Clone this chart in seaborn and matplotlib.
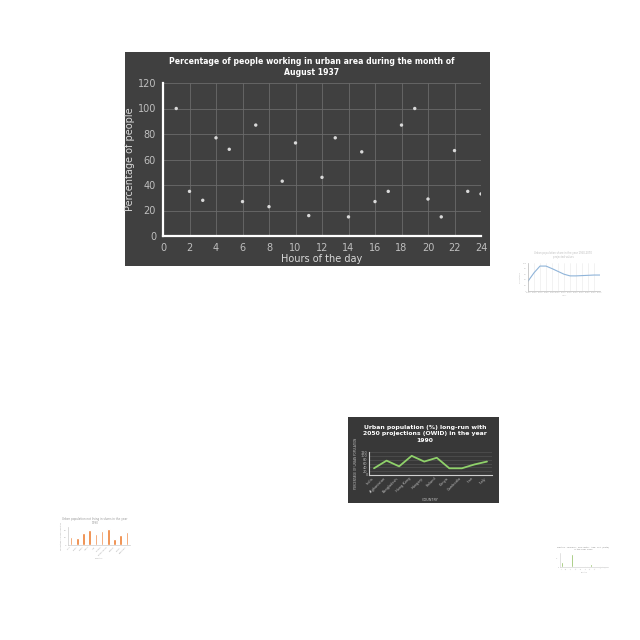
import matplotlib
matplotlib.use("Agg")
import matplotlib.pyplot as plt
import matplotlib.patches as mpatches
import seaborn as sns
import pandas as pd

# main scatter: hours vs percentage
hours = list(range(1, 25))
pct_people = [100, 35, 28, 77, 68, 27, 87, 23, 43, 73, 16, 46,
              77, 15, 66, 27, 35, 87, 100, 29, 15, 67, 35, 33]

# dark green line chart (1990)
countries = ["India", "Afghanistan", "Bangladesh", "Hong Kong", "Hungary",
             "Finland", "Kenya", "Cambodia", "Iran", "Italy"]
urban_1990 = [35, 75, 45, 100, 70, 90, 35, 35, 55, 70]

# light line chart (top right)
light_years = ["1950", "1960", "1970", "1980", "1990", "2000", "2010",
               "2020", "2030", "2040", "2050", "2060", "2070"]
light_vals = [35, 65, 89, 89, 80, 70, 60, 54, 54, 55, 56, 57, 57]

# orange bar chart (bottom left)
orange_cats = ["Peru", "Chad", "Cuba", "Japan", "Iraq", "Greece",
               "Netherlands", "Ghana", "Egypt", "Denmark"]
orange_vals = [23, 20, 33, 43, 31, 40, 45, 16, 28, 36]

# green bar chart (bottom right)
green_cats = ["A", "B", "C", "D", "E", "F", "G", "H", "I", "J"]
green_vals = [12, 1, 30, 0, 0, 3, 8, 0, 2, 1]

W = H = 640


def box(x0, y0, x1, y1):
    # pixel box (top-left origin) -> figure fraction rect
    return [x0 / W, 1 - y1 / H, (x1 - x0) / W, (y1 - y0) / H]


def panel(x0, y0, x1, y1, color):
    b = box(x0, y0, x1, y1)
    fig.patches.append(mpatches.Rectangle((b[0], b[1]), b[2], b[3],
                                          transform=fig.transFigure,
                                          facecolor=color, edgecolor="none",
                                          zorder=-5))


sns.set_style("white")
fig = plt.figure(figsize=(6.4, 6.4), dpi=100)
fig.patch.set_facecolor("white")

# ---------------- main scatter ----------------
panel(125, 52, 490, 266, "#404040")
ax = fig.add_axes(box(163, 83, 481, 236))
ax.set_facecolor("#404040")
df = pd.DataFrame({"hour": hours, "pct": pct_people})
sns.scatterplot(data=df, x="hour", y="pct", ax=ax, color="#d9d9d9", s=6,
                edgecolor="none", zorder=3)
ax.set_xlim(0, 24)
ax.set_ylim(0, 120)
ax.set_xticks(range(0, 25, 2))
ax.set_yticks(range(0, 121, 20))
ax.grid(True, color="#6b6b6b", linewidth=0.6)
for s in ["top", "right"]:
    ax.spines[s].set_visible(False)
for s in ["left", "bottom"]:
    ax.spines[s].set_color("white")
    ax.spines[s].set_linewidth(1.6)
ax.tick_params(colors="#bfbfbf", labelsize=7, length=0, pad=5)
ax.set_xlabel("Hours of the day", color="#d9d9d9", fontsize=7, labelpad=1)
ax.set_ylabel("Percentage of people", color="#d9d9d9", fontsize=7, labelpad=2)
fig.text(312 / W, 1 - 67 / H,
         "Percentage of people working in urban area during the month of\nAugust 1937",
         ha="center", va="center", color="white", fontsize=5.6, fontweight="bold",
         linespacing=1.4)

# ---------------- dark green line chart ----------------
panel(348, 417, 499, 503, "#383838")
ax2 = fig.add_axes(box(369, 452, 492, 475))
ax2.set_facecolor("#383838")
df2 = pd.DataFrame({"country": countries, "urban": urban_1990})
sns.lineplot(data=df2, x="country", y="urban", ax=ax2, color="#8fd16a",
             linewidth=1.3, sort=False)
ax2.set_ylim(0, 120)
ax2.set_xlim(-0.4, 9.4)
ax2.set_yticks(range(0, 121, 20))
ax2.grid(axis="y", color="#5a5a5a", linewidth=0.4)
for s in ["top", "right"]:
    ax2.spines[s].set_visible(False)
for s in ["left", "bottom"]:
    ax2.spines[s].set_color("#d0d0d0")
    ax2.spines[s].set_linewidth(0.8)
ax2.tick_params(colors="#bfbfbf", labelsize=2.5, length=0, pad=1)
plt.setp(ax2.get_xticklabels(), rotation=45, ha="right")
ax2.set_xlabel("COUNTRY", color="#bfbfbf", fontsize=2.5, labelpad=3)
ax2.set_ylabel("PERCENTAGE OF URBAN POPULATION", color="#bfbfbf", fontsize=2,
               labelpad=2)
fig.text(425 / W, 1 - 434 / H,
         "Urban population (%) long-run with\n2050 projections (OWID) in the year\n1990",
         ha="center", va="center", color="white", fontsize=4.4, fontweight="bold",
         linespacing=1.25)

# ---------------- light line chart (top right) ----------------
ax3 = fig.add_axes(box(528, 263, 600, 291))
df3 = pd.DataFrame({"year": light_years, "val": light_vals})
sns.lineplot(data=df3, x="year", y="val", ax=ax3, color="#8fb4d9", linewidth=0.8,
             sort=False)
ax3.set_ylim(0, 100)
ax3.set_xlim(0, len(light_years) - 1)
ax3.grid(axis="x", color="#e8e8e8", linewidth=0.4)
for s in ["top", "right"]:
    ax3.spines[s].set_visible(False)
for s in ["left", "bottom"]:
    ax3.spines[s].set_color("#bbbbbb")
    ax3.spines[s].set_linewidth(0.5)
ax3.tick_params(colors="#bbbbbb", labelsize=1.5, length=0, pad=1)
ax3.set_xlabel("Year", color="#bbbbbb", fontsize=1.5, labelpad=1)
ax3.set_ylabel("Percentage", color="#bbbbbb", fontsize=1.5, labelpad=1)
fig.text(563 / W, 1 - 255 / H,
         "Urban population share in the year 1950-2070\nprojected values",
         ha="center", va="center", color="#bbbbbb", fontsize=1.8)

# ---------------- orange bar chart (bottom left) ----------------
ax4 = fig.add_axes(box(68, 527, 130, 545))
df4 = pd.DataFrame({"country": orange_cats, "val": orange_vals})
sns.barplot(data=df4, x="country", y="val", ax=ax4, color="#ed7d31", width=0.4,
            saturation=1)
ax4.set_ylim(0, 50)
for s in ["top", "right"]:
    ax4.spines[s].set_visible(False)
for s in ["left", "bottom"]:
    ax4.spines[s].set_color("#cccccc")
    ax4.spines[s].set_linewidth(0.5)
ax4.tick_params(colors="#aaaaaa", labelsize=1.5, length=0, pad=1)
plt.setp(ax4.get_xticklabels(), rotation=45, ha="right")
ax4.set_xlabel("Country", color="#aaaaaa", fontsize=1.5, labelpad=1)
ax4.set_ylabel("Percentage of urban population", color="#aaaaaa", fontsize=1.3,
               labelpad=1)
fig.text(95 / W, 1 - 521 / H,
         "Urban population not living in slums in the year\n1990",
         ha="center", va="center", color="#999999", fontsize=2)

# ---------------- green bar chart (bottom right) ----------------
ax5 = fig.add_axes(box(560, 553, 608, 567))
df5 = pd.DataFrame({"cat": green_cats, "val": green_vals})
sns.barplot(data=df5, x="cat", y="val", ax=ax5, color="#7ab342", width=0.4,
            saturation=1)
ax5.set_ylim(0, 32)
for s in ["top", "right"]:
    ax5.spines[s].set_visible(False)
for s in ["left", "bottom"]:
    ax5.spines[s].set_color("#cccccc")
    ax5.spines[s].set_linewidth(0.4)
ax5.tick_params(colors="#aaaaaa", labelsize=1.3, length=0, pad=1)
plt.setp(ax5.get_xticklabels(), rotation=45, ha="right")
ax5.set_xlabel("Country", color="#aaaaaa", fontsize=1.3, labelpad=1)
ax5.set_ylabel("", fontsize=1)
fig.text(583 / W, 1 - 548 / H,
         "Deaths - Malaria - Sex: Both - Age: 70+ (Rate)\nin the year 1990",
         ha="center", va="center", color="#888888", fontsize=1.6)

fig.savefig("out.png", dpi=100, facecolor="white")
